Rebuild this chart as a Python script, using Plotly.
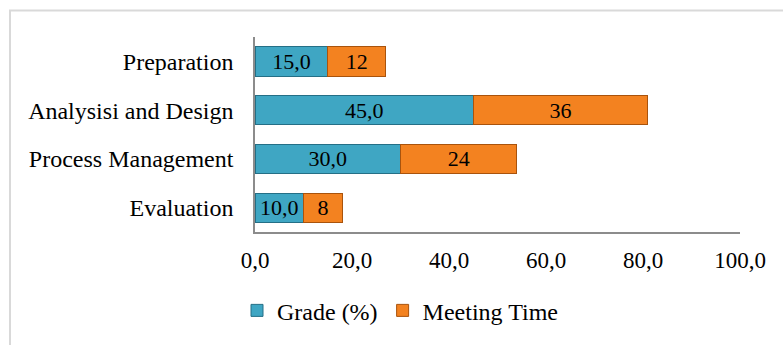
import plotly.graph_objects as go

categories = ["Evaluation", "Process Management", "Analysisi and Design", "Preparation"]
grade = [10.0, 30.0, 45.0, 15.0]
meeting = [8, 24, 36, 12]
x_ticks = [0, 20, 40, 60, 80, 100]

FONT = "Liberation Serif, Times New Roman, serif"

fig = go.Figure()
fig.add_trace(go.Bar(
    y=categories, x=grade, orientation="h", name="Grade (%)",
    marker=dict(color="#3fa6c3", line=dict(color="#256f86", width=1)),
    texttemplate="%{x:.1f}", textposition="inside", insidetextanchor="middle",
    textangle=0, constraintext="none",
    textfont=dict(color="black", size=22, family=FONT),
))
fig.add_trace(go.Bar(
    y=categories, x=meeting, orientation="h", name="Meeting Time",
    marker=dict(color="#f38220", line=dict(color="#a9530c", width=1)),
    texttemplate="%{x:.0f}", textposition="inside", insidetextanchor="middle",
    textangle=0, constraintext="none",
    textfont=dict(color="black", size=22, family=FONT),
))

L, R, T, B = 255, 43, 37, 110
W, H = 783, 345
pw, ph = W - L - R, H - T - B

def px_x(p):
    return (p - L) / pw

def px_y(p):
    return (H - B - p) / ph

fig.update_layout(
    width=W, height=H,
    margin=dict(l=L, r=R, t=T, b=B),
    barmode="stack", bargap=0.4,
    separators=", ",
    paper_bgcolor="white", plot_bgcolor="white",
    font=dict(family=FONT, size=23, color="black"),
    showlegend=True,
    legend=dict(orientation="h", traceorder="normal",
                x=px_x(237), xanchor="left",
                y=px_y(315), yanchor="middle",
                font=dict(size=24, family=FONT), itemwidth=30,
                bgcolor="rgba(0,0,0,0)"),
    xaxis=dict(range=[0, 100], tickvals=x_ticks, tickformat=".1f",
               showgrid=False, zeroline=False, showline=True,
               linecolor="#8c8c8c", linewidth=1.5, ticks="",
               ticklabelstandoff=7, tickfont=dict(size=23),
               fixedrange=True),
    yaxis=dict(showgrid=False, zeroline=False, showline=True,
               linecolor="#8c8c8c", linewidth=1.5, ticks="",
               ticklabelstandoff=15, tickfont=dict(size=24),
               fixedrange=True),
    shapes=[dict(type="rect", xref="paper", yref="paper",
                 x0=px_x(10), x1=px_x(W + 20), y0=px_y(H + 20), y1=px_y(10),
                 line=dict(color="#d9d9d9", width=2), fillcolor="rgba(0,0,0,0)",
                 layer="below")],
)

fig.write_html("out.html")
